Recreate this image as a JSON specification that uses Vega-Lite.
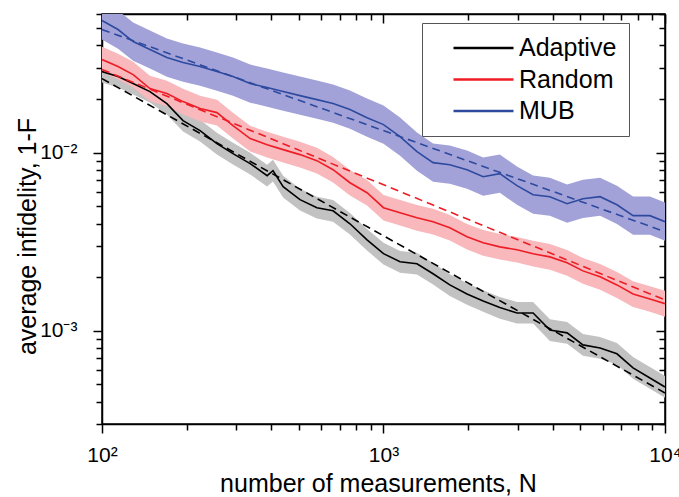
{
  "$schema": "https://vega.github.io/schema/vega-lite/v6.json",
  "autosize": "none",
  "width": 563,
  "height": 410,
  "padding": {"left": 102, "top": 14, "right": 14, "bottom": 73},
  "background": "white",
  "datasets": {
    "curves": [
      {"s": "Adaptive", "N": 100, "v": 0.02851, "lo": 0.02479, "hi": 0.03279},
      {"s": "Adaptive", "N": 114, "v": 0.02673, "lo": 0.02324, "hi": 0.03074},
      {"s": "Adaptive", "N": 129, "v": 0.02441, "lo": 0.02123, "hi": 0.02807},
      {"s": "Adaptive", "N": 148, "v": 0.02202, "lo": 0.01915, "hi": 0.02532},
      {"s": "Adaptive", "N": 170, "v": 0.01885, "lo": 0.01639, "hi": 0.02168},
      {"s": "Adaptive", "N": 194, "v": 0.01513, "lo": 0.01316, "hi": 0.0174},
      {"s": "Adaptive", "N": 223, "v": 0.01329, "lo": 0.01156, "hi": 0.01528},
      {"s": "Adaptive", "N": 256, "v": 0.01124, "lo": 0.00977, "hi": 0.01293},
      {"s": "Adaptive", "N": 292, "v": 0.00987, "lo": 0.00858, "hi": 0.01135},
      {"s": "Adaptive", "N": 336, "v": 0.00868, "lo": 0.00755, "hi": 0.00998},
      {"s": "Adaptive", "N": 386, "v": 0.00743, "lo": 0.00646, "hi": 0.00854},
      {"s": "Adaptive", "N": 405, "v": 0.00792, "lo": 0.00689, "hi": 0.00911},
      {"s": "Adaptive", "N": 440, "v": 0.00644, "lo": 0.0056, "hi": 0.00741},
      {"s": "Adaptive", "N": 505, "v": 0.00545, "lo": 0.00474, "hi": 0.00627},
      {"s": "Adaptive", "N": 580, "v": 0.00491, "lo": 0.00427, "hi": 0.00565},
      {"s": "Adaptive", "N": 662, "v": 0.00472, "lo": 0.0041, "hi": 0.00543},
      {"s": "Adaptive", "N": 760, "v": 0.00399, "lo": 0.00347, "hi": 0.00459},
      {"s": "Adaptive", "N": 874, "v": 0.00324, "lo": 0.00282, "hi": 0.00373},
      {"s": "Adaptive", "N": 1000, "v": 0.00271, "lo": 0.00236, "hi": 0.00312},
      {"s": "Adaptive", "N": 1145, "v": 0.00244, "lo": 0.00212, "hi": 0.00281},
      {"s": "Adaptive", "N": 1315, "v": 0.00238, "lo": 0.00207, "hi": 0.00274},
      {"s": "Adaptive", "N": 1500, "v": 0.00209, "lo": 0.00182, "hi": 0.0024},
      {"s": "Adaptive", "N": 1720, "v": 0.00181, "lo": 0.00157, "hi": 0.00208},
      {"s": "Adaptive", "N": 1980, "v": 0.00161, "lo": 0.0014, "hi": 0.00185},
      {"s": "Adaptive", "N": 2260, "v": 0.00147, "lo": 0.00128, "hi": 0.00169},
      {"s": "Adaptive", "N": 2590, "v": 0.00135, "lo": 0.00117, "hi": 0.00155},
      {"s": "Adaptive", "N": 2980, "v": 0.00126, "lo": 0.0011, "hi": 0.00145},
      {"s": "Adaptive", "N": 3400, "v": 0.00126, "lo": 0.0011, "hi": 0.00145},
      {"s": "Adaptive", "N": 3900, "v": 0.00101, "lo": 0.000878, "hi": 0.00116},
      {"s": "Adaptive", "N": 4490, "v": 0.000974, "lo": 0.000847, "hi": 0.00112},
      {"s": "Adaptive", "N": 5110, "v": 0.000834, "lo": 0.000725, "hi": 0.000959},
      {"s": "Adaptive", "N": 5880, "v": 0.000802, "lo": 0.000697, "hi": 0.000922},
      {"s": "Adaptive", "N": 6750, "v": 0.000743, "lo": 0.000646, "hi": 0.000854},
      {"s": "Adaptive", "N": 7700, "v": 0.00062, "lo": 0.000539, "hi": 0.000713},
      {"s": "Adaptive", "N": 8840, "v": 0.000544, "lo": 0.000473, "hi": 0.000626},
      {"s": "Adaptive", "N": 10000, "v": 0.000484, "lo": 0.000421, "hi": 0.000557},

      {"s": "Random", "N": 100, "v": 0.03331, "lo": 0.02823, "hi": 0.03931},
      {"s": "Random", "N": 114, "v": 0.03041, "lo": 0.02577, "hi": 0.03588},
      {"s": "Random", "N": 129, "v": 0.02742, "lo": 0.02324, "hi": 0.03236},
      {"s": "Random", "N": 148, "v": 0.02289, "lo": 0.0194, "hi": 0.02701},
      {"s": "Random", "N": 170, "v": 0.02146, "lo": 0.01819, "hi": 0.02532},
      {"s": "Random", "N": 194, "v": 0.01934, "lo": 0.01639, "hi": 0.02282},
      {"s": "Random", "N": 223, "v": 0.01767, "lo": 0.01497, "hi": 0.02085},
      {"s": "Random", "N": 256, "v": 0.01678, "lo": 0.01422, "hi": 0.0198},
      {"s": "Random", "N": 292, "v": 0.01418, "lo": 0.01202, "hi": 0.01673},
      {"s": "Random", "N": 336, "v": 0.01199, "lo": 0.01016, "hi": 0.01415},
      {"s": "Random", "N": 386, "v": 0.01109, "lo": 0.0094, "hi": 0.01309},
      {"s": "Random", "N": 440, "v": 0.0104, "lo": 0.00881, "hi": 0.01227},
      {"s": "Random", "N": 505, "v": 0.00975, "lo": 0.00826, "hi": 0.01151},
      {"s": "Random", "N": 580, "v": 0.00902, "lo": 0.00764, "hi": 0.01064},
      {"s": "Random", "N": 662, "v": 0.00802, "lo": 0.0068, "hi": 0.00946},
      {"s": "Random", "N": 760, "v": 0.00678, "lo": 0.00575, "hi": 0.008},
      {"s": "Random", "N": 874, "v": 0.00596, "lo": 0.00505, "hi": 0.00703},
      {"s": "Random", "N": 1000, "v": 0.00491, "lo": 0.00416, "hi": 0.00579},
      {"s": "Random", "N": 1145, "v": 0.0046, "lo": 0.0039, "hi": 0.00543},
      {"s": "Random", "N": 1315, "v": 0.00431, "lo": 0.00365, "hi": 0.00509},
      {"s": "Random", "N": 1500, "v": 0.0041, "lo": 0.00347, "hi": 0.00484},
      {"s": "Random", "N": 1720, "v": 0.00379, "lo": 0.00321, "hi": 0.00447},
      {"s": "Random", "N": 1980, "v": 0.00337, "lo": 0.00286, "hi": 0.00398},
      {"s": "Random", "N": 2260, "v": 0.00312, "lo": 0.00264, "hi": 0.00368},
      {"s": "Random", "N": 2590, "v": 0.00296, "lo": 0.00251, "hi": 0.00349},
      {"s": "Random", "N": 2980, "v": 0.00285, "lo": 0.00242, "hi": 0.00336},
      {"s": "Random", "N": 3400, "v": 0.00271, "lo": 0.0023, "hi": 0.0032},
      {"s": "Random", "N": 3900, "v": 0.0026, "lo": 0.0022, "hi": 0.00307},
      {"s": "Random", "N": 4490, "v": 0.00241, "lo": 0.00204, "hi": 0.00284},
      {"s": "Random", "N": 5110, "v": 0.00217, "lo": 0.00184, "hi": 0.00256},
      {"s": "Random", "N": 5880, "v": 0.00201, "lo": 0.0017, "hi": 0.00237},
      {"s": "Random", "N": 6750, "v": 0.00181, "lo": 0.00153, "hi": 0.00214},
      {"s": "Random", "N": 7700, "v": 0.00161, "lo": 0.00136, "hi": 0.0019},
      {"s": "Random", "N": 8840, "v": 0.00151, "lo": 0.00128, "hi": 0.00178},
      {"s": "Random", "N": 10000, "v": 0.00142, "lo": 0.0012, "hi": 0.00168},

      {"s": "MUB", "N": 100, "v": 0.05515, "lo": 0.04309, "hi": 0.07059},
      {"s": "MUB", "N": 114, "v": 0.04909, "lo": 0.03835, "hi": 0.06284},
      {"s": "MUB", "N": 129, "v": 0.04204, "lo": 0.03284, "hi": 0.05381},
      {"s": "MUB", "N": 148, "v": 0.03791, "lo": 0.02962, "hi": 0.04852},
      {"s": "MUB", "N": 170, "v": 0.03418, "lo": 0.0267, "hi": 0.04375},
      {"s": "MUB", "N": 194, "v": 0.03203, "lo": 0.02502, "hi": 0.041},
      {"s": "MUB", "N": 223, "v": 0.03041, "lo": 0.02376, "hi": 0.03892},
      {"s": "MUB", "N": 256, "v": 0.02851, "lo": 0.02227, "hi": 0.03649},
      {"s": "MUB", "N": 292, "v": 0.02673, "lo": 0.02088, "hi": 0.03421},
      {"s": "MUB", "N": 336, "v": 0.02441, "lo": 0.01907, "hi": 0.03124},
      {"s": "MUB", "N": 386, "v": 0.02318, "lo": 0.01811, "hi": 0.02967},
      {"s": "MUB", "N": 440, "v": 0.02202, "lo": 0.0172, "hi": 0.02819},
      {"s": "MUB", "N": 505, "v": 0.0209, "lo": 0.01633, "hi": 0.02675},
      {"s": "MUB", "N": 580, "v": 0.01985, "lo": 0.01551, "hi": 0.02541},
      {"s": "MUB", "N": 662, "v": 0.01885, "lo": 0.01473, "hi": 0.02413},
      {"s": "MUB", "N": 760, "v": 0.01744, "lo": 0.01363, "hi": 0.02232},
      {"s": "MUB", "N": 874, "v": 0.01572, "lo": 0.01228, "hi": 0.02012},
      {"s": "MUB", "N": 1000, "v": 0.01437, "lo": 0.01123, "hi": 0.01839},
      {"s": "MUB", "N": 1145, "v": 0.0123, "lo": 0.00961, "hi": 0.01574},
      {"s": "MUB", "N": 1315, "v": 0.01013, "lo": 0.00791, "hi": 0.01297},
      {"s": "MUB", "N": 1500, "v": 0.00879, "lo": 0.00687, "hi": 0.01125},
      {"s": "MUB", "N": 1720, "v": 0.00856, "lo": 0.00669, "hi": 0.01096},
      {"s": "MUB", "N": 1980, "v": 0.00802, "lo": 0.00627, "hi": 0.01027},
      {"s": "MUB", "N": 2260, "v": 0.00733, "lo": 0.00573, "hi": 0.00938},
      {"s": "MUB", "N": 2590, "v": 0.00762, "lo": 0.00595, "hi": 0.00975},
      {"s": "MUB", "N": 2980, "v": 0.00653, "lo": 0.0051, "hi": 0.00836},
      {"s": "MUB", "N": 3400, "v": 0.00581, "lo": 0.00454, "hi": 0.00744},
      {"s": "MUB", "N": 3900, "v": 0.00566, "lo": 0.00442, "hi": 0.00724},
      {"s": "MUB", "N": 4490, "v": 0.00517, "lo": 0.00404, "hi": 0.00662},
      {"s": "MUB", "N": 5110, "v": 0.00551, "lo": 0.0043, "hi": 0.00705},
      {"s": "MUB", "N": 5880, "v": 0.00566, "lo": 0.00442, "hi": 0.00724},
      {"s": "MUB", "N": 6750, "v": 0.0051, "lo": 0.00398, "hi": 0.00653},
      {"s": "MUB", "N": 7700, "v": 0.00443, "lo": 0.00346, "hi": 0.00567},
      {"s": "MUB", "N": 8840, "v": 0.00443, "lo": 0.00346, "hi": 0.00567},
      {"s": "MUB", "N": 10000, "v": 0.0041, "lo": 0.0032, "hi": 0.00525}
    ],
    "fits": [
      {"s": "Adaptive", "N": 100, "v": 0.02604},
      {"s": "Adaptive", "N": 10000, "v": 0.000448},
      {"s": "Random", "N": 100, "v": 0.02926},
      {"s": "Random", "N": 10000, "v": 0.00149},
      {"s": "MUB", "N": 100, "v": 0.04909},
      {"s": "MUB", "N": 10000, "v": 0.0036}
    ]
  },
  "layer": [
    {
      "data": {"name": "curves"},
      "mark": {"type": "area", "clip": true},
      "encoding": {
        "x": {
          "field": "N", "type": "quantitative",
          "scale": {"type": "log", "domain": [100, 10000], "nice": false},
          "axis": {
            "orient": "bottom",
            "title": "number of measurements, N",
            "values": [100, 200, 300, 400, 500, 600, 700, 800, 900, 1000, 2000, 3000, 4000, 5000, 6000, 7000, 8000, 9000, 10000],
            "labelExpr": "datum.value == 100 ? '10²' : datum.value == 1000 ? '10³' : datum.value == 10000 ? '10⁴' : ''",
            "tickSize": {"condition": {"test": "datum.value == 100 || datum.value == 1000 || datum.value == 10000", "value": 9}, "value": 6},
            "labelPadding": 11,
            "labelFontSize": 21,
            "labelOverlap": false,
            "labelBound": false,
            "labelFlush": false,
            "titleX": 276,
            "titleY": 67,
            "titleBaseline": "alphabetic"
          }
        },
        "y": {
          "field": "lo", "type": "quantitative",
          "scale": {"type": "log", "domain": [0.0003, 0.06], "nice": false},
          "axis": {
            "orient": "left",
            "title": "average infidelity, 1-F",
            "values": [0.0003, 0.0004, 0.0005, 0.0006, 0.0007, 0.0008, 0.0009, 0.001, 0.002, 0.003, 0.004, 0.005, 0.006, 0.007, 0.008, 0.009, 0.01, 0.02, 0.03, 0.04, 0.05, 0.06],
            "labelExpr": "datum.value == 0.001 ? '10⁻³' : datum.value == 0.01 ? '10⁻²' : ''",
            "tickSize": {"condition": {"test": "datum.value == 0.001 || datum.value == 0.01", "value": 9}, "value": 6},
            "labelPadding": 16,
            "labelFontSize": 21,
            "labelOverlap": false,
            "labelBound": false,
            "labelFlush": false,
            "titleX": -67,
            "titleY": 222,
            "titleAngle": -90,
            "titleAlign": "center",
            "titleBaseline": "alphabetic"
          }
        },
        "y2": {"field": "hi"},
        "fill": {
          "field": "s", "type": "nominal",
          "scale": {"domain": ["MUB", "Random", "Adaptive"], "range": ["#a3a2d8", "#f8b8bc", "#c2c2c2"]},
          "legend": null
        }
      }
    },
    {
      "data": {"name": "curves"},
      "mark": {"type": "line", "clip": true, "strokeWidth": 1.6},
      "encoding": {
        "x": {"field": "N", "type": "quantitative", "axis": null},
        "y": {"field": "v", "type": "quantitative", "axis": null},
        "color": {
          "field": "s", "type": "nominal",
          "scale": {"domain": ["Adaptive", "Random", "MUB"], "range": ["#000000", "#ee1d25", "#2d4a9f"]},
          "legend": {
            "title": null,
            "orient": "none",
            "legendX": 320,
            "legendY": 9,
            "padding": 12,
            "symbolOffset": 18,
            "symbolType": "stroke",
            "symbolSize": 3600,
            "clipHeight": 26,
            "symbolStrokeWidth": 2.5,
            "symbolDash": [1, 0],
            "labelFont": "Liberation Sans",
            "labelFontSize": 25,
            "labelColor": "black",
            "labelOffset": 4,
            "rowPadding": 5.5,
            "strokeColor": "#555555",
            "fillColor": "white"
          }
        }
      }
    },
    {
      "data": {"name": "fits"},
      "mark": {"type": "line", "clip": true, "strokeWidth": 1.6, "strokeDash": [8, 5]},
      "encoding": {
        "x": {
          "field": "N", "type": "quantitative",
          "axis": {
            "orient": "top", "title": null, "labels": false,
            "values": [100, 200, 300, 400, 500, 600, 700, 800, 900, 1000, 2000, 3000, 4000, 5000, 6000, 7000, 8000, 9000, 10000],
            "tickSize": {"condition": {"test": "datum.value == 100 || datum.value == 1000 || datum.value == 10000", "value": -9}, "value": -6}
          }
        },
        "y": {
          "field": "v", "type": "quantitative",
          "axis": {
            "orient": "right", "title": null, "labels": false,
            "values": [0.0003, 0.0004, 0.0005, 0.0006, 0.0007, 0.0008, 0.0009, 0.001, 0.002, 0.003, 0.004, 0.005, 0.006, 0.007, 0.008, 0.009, 0.01, 0.02, 0.03, 0.04, 0.05, 0.06],
            "tickSize": {"condition": {"test": "datum.value == 0.001 || datum.value == 0.01", "value": -9}, "value": -6}
          }
        },
        "color": {"field": "s", "type": "nominal"}
      }
    }
  ],
  "resolve": {"axis": {"x": "independent", "y": "independent"}},
  "config": {
    "view": {"stroke": "black", "strokeWidth": 1.5},
    "axis": {
      "grid": false,
      "domainColor": "black",
      "domainWidth": 1.5,
      "tickColor": "black",
      "tickWidth": 1.5,
      "labelColor": "black",
      "titleColor": "black",
      "labelFont": "Liberation Sans",
      "titleFont": "Liberation Sans",
      "labelFontSize": 20,
      "titleFontSize": 25,
      "titleFontWeight": "normal"
    }
  }
}
